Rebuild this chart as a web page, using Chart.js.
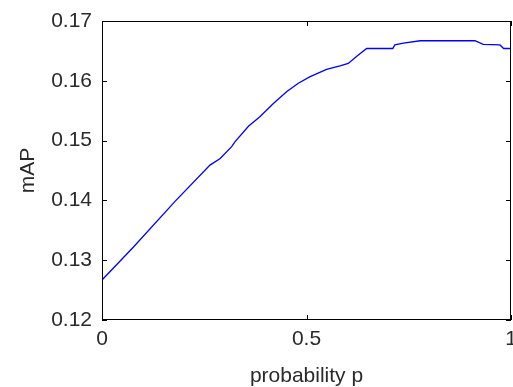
<!DOCTYPE html>
<html>
<head>
<meta charset="utf-8">
<script src="https://cdn.jsdelivr.net/npm/chart.js@4"></script>
<style>
  html, body { margin: 0; padding: 0; background: #fff; }
  #wrap { width: 513px; height: 387px; }
</style>
</head>
<body>
<div id="wrap"><canvas id="map"></canvas></div>
<script>
// probability p vs mAP
const probability = [0, 0.077, 0.178, 0.264, 0.289, 0.317, 0.325, 0.358, 0.386, 0.419, 0.452, 0.480, 0.509,
                     0.549, 0.582, 0.602, 0.623, 0.647, 0.711, 0.716, 0.737, 0.778, 0.912, 0.932, 0.973, 0.982, 1.0];
const mapValues = [0.1267, 0.1322, 0.1398, 0.1459, 0.1470, 0.1490, 0.1498, 0.1524, 0.1540, 0.1562, 0.1582, 0.1596, 0.1607,
                   0.1619, 0.1625, 0.1629, 0.1641, 0.1654, 0.1654, 0.1660, 0.1663, 0.1667, 0.1667, 0.1661, 0.1660, 0.1654, 0.1654];
const xTicks = [0, 0.5, 1];
const yTicks = [0.12, 0.13, 0.14, 0.15, 0.16, 0.17];

const fontFamily = '"Liberation Sans", Arial, sans-serif';
const textColor = '#2a2a2a';

// MATLAB style box with inward ticks on all four sides
const boxPlugin = {
  id: 'box',
  afterDraw(chart) {
    const { ctx, chartArea: a, scales } = chart;
    ctx.save();
    ctx.strokeStyle = '#000';
    ctx.lineWidth = 1;
    ctx.strokeRect(a.left + 0.5, a.top + 0.5, a.right - a.left - 1, a.bottom - a.top - 1);
    const len = 5;
    ctx.beginPath();
    xTicks.forEach(v => {
      const x = Math.round(scales.x.getPixelForValue(v)) + 0.5;
      ctx.moveTo(x, a.bottom); ctx.lineTo(x, a.bottom - len);
      ctx.moveTo(x, a.top); ctx.lineTo(x, a.top + len);
    });
    yTicks.forEach(v => {
      const y = Math.round(scales.y.getPixelForValue(v)) + 0.5;
      ctx.moveTo(a.left, y); ctx.lineTo(a.left + len, y);
      ctx.moveTo(a.right, y); ctx.lineTo(a.right - len, y);
    });
    ctx.stroke();
    ctx.restore();
  }
};

new Chart(document.getElementById('map'), {
  type: 'line',
  data: {
    datasets: [{
      data: probability.map((p, i) => ({ x: p, y: mapValues[i] })),
      borderColor: 'rgb(0, 0, 255)',
      borderWidth: 1.3,
      pointRadius: 0,
      tension: 0
    }]
  },
  options: {
    responsive: true,
    maintainAspectRatio: false,
    animation: false,
    layout: { padding: { left: 0, right: 2, top: 21, bottom: 0 } },
    plugins: { legend: { display: false }, tooltip: { enabled: false } },
    scales: {
      x: {
        type: 'linear',
        min: 0, max: 1,
        afterBuildTicks: s => { s.ticks = xTicks.map(v => ({ value: v })); },
        afterFit: s => { s.height = 67; s.paddingLeft = 0; s.paddingRight = 0; },
        grid: { display: false, drawTicks: false },
        border: { display: false },
        ticks: {
          padding: 7,
          maxRotation: 0,
          color: textColor,
          font: { family: fontFamily, size: 21 },
          callback: v => String(v)
        },
        title: {
          display: true,
          text: 'probability p',
          color: textColor,
          font: { family: fontFamily, size: 21 },
          padding: { top: 0, bottom: -2 }
        }
      },
      y: {
        min: 0.12, max: 0.17,
        afterBuildTicks: s => { s.ticks = yTicks.map(v => ({ value: v })); },
        afterFit: s => { s.width = 102; s.paddingTop = 0; s.paddingBottom = 0; },
        grid: { display: false, drawTicks: false },
        border: { display: false },
        ticks: {
          padding: 10,
          color: textColor,
          font: { family: fontFamily, size: 21 },
          callback: v => v.toFixed(2)
        },
        title: {
          display: true,
          text: 'mAP',
          color: textColor,
          font: { family: fontFamily, size: 21 },
          padding: { top: 16, bottom: 0 }
        }
      }
    }
  },
  plugins: [boxPlugin]
});
</script>
</body>
</html>
